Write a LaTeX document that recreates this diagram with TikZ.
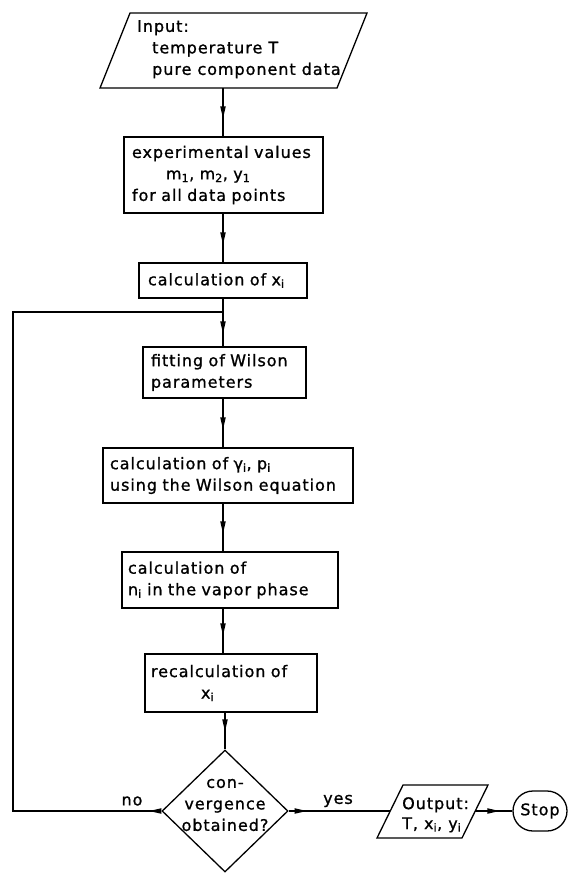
\documentclass[tikz,border=0pt]{standalone}
\usepackage{fontspec}
\setmainfont{DejaVu Sans}[LetterSpace=6,FakeBold=1]
\usetikzlibrary{arrows.meta,decorations.markings,shapes.geometric}
\newcommand{\sbs}[1]{\textsubscript{#1}}
\begin{document}
\begin{tikzpicture}[x=1pt,y=-1pt,
  font=\fontsize{16}{21.5}\selectfont,
  every node/.style={inner sep=0pt},
  lw/.style={line width=1.3pt},
  box/.style={draw, lw, rectangle, align=left},
  flowarrow/.style={lw, decoration={markings, mark=at position #1 with {\fill (0pt,0pt) -- (-12pt,2.8pt) -- (-12pt,-2.8pt) -- cycle;}}, postaction={decorate}},
  flowarrow/.default=-18pt]
\fill[white] (0,0) rectangle (568,873);
\useasboundingbox (0,0) rectangle (568,873);
\coordinate (spine) at (223,0);
% input
\draw[lw] (130,13) -- (367,13) -- (337,88) -- (100,88) -- cycle;
\coordinate (inbot) at (223,88);
\node[anchor=north west, align=left] (intext) at (137,20) {Input:\\\hspace*{15pt}temperature T\\\hspace*{15pt}pure component data};
% boxes
\node[box, minimum width=199pt, minimum height=76pt, text width=183pt, inner xsep=8pt] (exp) at (223.5,175)
  {experimental values\\\hspace*{34pt}m\sbs{1}, m\sbs{2}, y\sbs{1}\\for all data points};
\node[box, minimum width=168pt, minimum height=35pt, text width=150pt, inner xsep=9pt] (calc) at (223,280.5)
  {calculation of x\sbs{i}};
\node[box, minimum width=163pt, minimum height=51pt, text width=147pt, inner xsep=8pt] (fit) at (224.5,372.5)
  {fitting of Wilson\\parameters};
\node[box, minimum width=250pt, minimum height=55pt, text width=236pt, inner xsep=7pt] (gam) at (228,475.5)
  {calculation of γ\sbs{i}, p\sbs{i}\\using the Wilson equation};
\node[box, minimum width=216pt, minimum height=56pt, text width=204pt, inner xsep=6pt] (nvap) at (230,580)
  {calculation of\\n\sbs{i} in the vapor phase};
\node[box, minimum width=172pt, minimum height=58pt, text width=160pt, inner xsep=6pt] (recalc) at (231,683)
  {recalculation of\\\hspace*{50pt}x\sbs{i}};
% decision
\node[draw, lw, diamond, minimum width=126pt, minimum height=122pt] (dec) at (225,811) {};
\node[align=center] (dectext) at (225,805) {con-\\vergence\\obtained?};
% output
\draw[lw] (403,785) -- (488,785) -- (462,838) -- (377,838) -- cycle;
\coordinate (outL) at (390,811);
\coordinate (outR) at (475,811);
\node[anchor=north west, align=left] (outtext) at (402,797) {Output:\\[-1.5pt]T, x\sbs{i}, y\sbs{i}};
\node[draw, lw, rounded corners=20pt, minimum width=54pt, minimum height=40pt] (stop) at (540,811) {Stop};
% labels
\node (yes) at (338,801) {yes};
\node (no) at (132,801) {no};
% connectors
\draw[flowarrow] (inbot) -- (inbot |- exp.north);
\draw[flowarrow] (spine |- exp.south) -- (spine |- calc.north);
\draw[flowarrow=-13pt] (spine |- calc.south) -- (spine |- fit.north);
\draw[flowarrow] (spine |- fit.south) -- (spine |- gam.north);
\draw[flowarrow] (spine |- gam.south) -- (spine |- nvap.north);
\draw[flowarrow] (spine |- nvap.south) -- (spine |- recalc.north);
\draw[flowarrow] (dec.north |- recalc.south) -- (dec.north);
\coordinate (lc) at (13,312);
\draw[flowarrow=12pt] (dec.west) -- (dec.west -| lc) -- (lc) -- (spine |- lc);
\draw[flowarrow=18pt] (dec.east) -- (outL);
\draw[flowarrow=-13pt] (outR) -- (stop.west);
\end{tikzpicture}
\end{document}
